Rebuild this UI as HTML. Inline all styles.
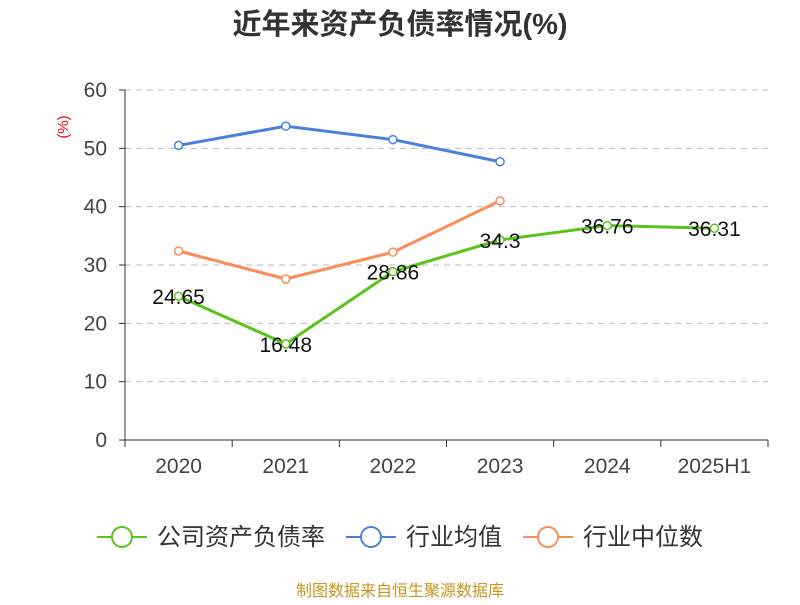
<!DOCTYPE html>
<html><head><meta charset="utf-8"><style>
body{margin:0;background:#fff;font-family:"Liberation Sans","Noto Sans CJK SC",sans-serif;}
</style></head><body>
<svg width="800" height="600" xmlns="http://www.w3.org/2000/svg" style="font-family:'Liberation Sans','Noto Sans CJK SC',sans-serif">
<text x="400" y="34" text-anchor="middle" font-size="29" font-weight="bold" fill="#333">近年来资产负债率情况(%)</text>
<text x="68" y="127" font-size="15" fill="#e00" transform="rotate(-90 68 127)" text-anchor="middle">(%)</text>
<g id="grid"></g><g id="axes"></g><g id="series"></g>
<g>
<g><line x1="97" y1="537" x2="147" y2="537" stroke="#5ac31c" stroke-width="2"/><circle cx="122" cy="537" r="10" fill="#fff" stroke="#5ac31c" stroke-width="2"/><text x="157" y="545" font-size="24" fill="#333">公司资产负债率</text></g>
<g><line x1="346" y1="537" x2="396" y2="537" stroke="#4a80e0" stroke-width="2"/><circle cx="371" cy="537" r="10" fill="#fff" stroke="#4a80e0" stroke-width="2"/><text x="406" y="545" font-size="24" fill="#333">行业均值</text></g>
<g><line x1="523" y1="537" x2="573" y2="537" stroke="#fb8c55" stroke-width="2"/><circle cx="548" cy="537" r="10" fill="#fff" stroke="#fb8c55" stroke-width="2"/><text x="583" y="545" font-size="24" fill="#333">行业中位数</text></g>
</g>
<text x="400" y="596" text-anchor="middle" font-size="16" fill="#c8961e">制图数据来自恒生聚源数据库</text>
</svg>
<script>
const categories=["2020","2021","2022","2023","2024","2025H1"];
const company=[24.65,16.48,28.86,34.3,36.76,36.31];
const companyLabels=["24.65","16.48","28.86","34.3","36.76","36.31"];
const industryAvg=[50.5,53.8,51.5,47.7];
const industryMedian=[32.4,27.6,32.2,41.0];
const yTicks=[0,10,20,30,40,50,60];
const NS="http://www.w3.org/2000/svg";
const x0=125,x1=768,yB=440,yT=90;
const band=(x1-x0)/categories.length;
const X=i=>x0+band*(i+0.5);
const Y=v=>yB-(v/60)*(yB-yT);
function mk(tag,attrs,parent,text){const e=document.createElementNS(NS,tag);for(const k in attrs)e.setAttribute(k,attrs[k]);if(text!==undefined)e.textContent=text;parent.appendChild(e);return e;}
const grid=document.getElementById('grid'),axes=document.getElementById('axes'),ser=document.getElementById('series');
yTicks.forEach(t=>{
 if(t>0){const g=mk('line',{x1:x0,x2:x1,y1:Y(t),y2:Y(t),stroke:'#bbb','stroke-dasharray':'6,5'},grid);
 
 }
 const tk=mk('line',{x1:x0-6,x2:x0,y1:Y(t),y2:Y(t),stroke:'#333'},axes);
 
 
 const l=mk('text',{x:x0-18,y:Y(t)+7,'text-anchor':'end','font-size':21,fill:'#444'},axes,String(t));
 
 
});
const ya=mk('line',{x1:x0,x2:x0,y1:yT,y2:yB,stroke:'#333'},axes);


const xa=mk('line',{x1:x0,x2:x1,y1:yB,y2:yB,stroke:'#333'},axes);


for(let i=0;i<=categories.length;i++){const t=mk('line',{x1:x0+band*i,x2:x0+band*i,y1:yB,y2:yB+7,stroke:'#333'},axes);
 
 }
categories.forEach((c,i)=>{const t=mk('text',{x:X(i),y:473,'text-anchor':'middle','font-size':21,fill:'#444'},axes,c);
 
 });
function series(vals,color,name){
 const g=mk('g',{},ser);
 
 
 const p=mk('polyline',{points:vals.map((v,i)=>X(i)+','+Y(v)).join(' '),fill:'none',stroke:color,'stroke-width':3},g);
 
 
 vals.forEach((v,i)=>{const c=mk('circle',{cx:X(i),cy:Y(v),r:4,fill:'#fff',stroke:color,'stroke-width':1.5},g);
  
  });
 return g;
}
series(industryAvg,'#4a80e0','industry-avg');
series(industryMedian,'#fb8c55','industry-median');
const cg=series(company,'#5ac31c','company');
company.forEach((v,i)=>{const t=mk('text',{x:X(i),y:Y(v)+8,'text-anchor':'middle','font-size':21,fill:'#111'},cg,companyLabels[i]);
 
 });
</script>
</body></html>
